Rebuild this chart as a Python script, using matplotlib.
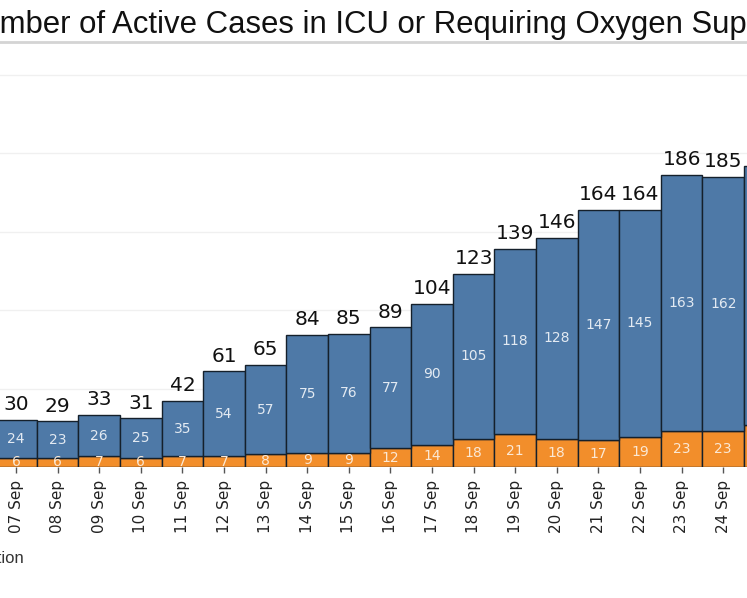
import matplotlib
matplotlib.use("Agg")
import matplotlib.pyplot as plt
from matplotlib.lines import Line2D

dates = ["07 Sep", "08 Sep", "09 Sep", "10 Sep", "11 Sep", "12 Sep", "13 Sep",
         "14 Sep", "15 Sep", "16 Sep", "17 Sep", "18 Sep", "19 Sep", "20 Sep",
         "21 Sep", "22 Sep", "23 Sep", "24 Sep", "25 Sep"]
icu = [6, 6, 7, 6, 7, 7, 8, 9, 9, 12, 14, 18, 21, 18, 17, 19, 23, 23, 27]
oxygen = [24, 23, 26, 25, 35, 54, 57, 75, 76, 77, 90, 105, 118, 128, 147, 145, 163, 162, 165]
totals = [a + b for a, b in zip(icu, oxygen)]
title = "Number of Active Cases in ICU or Requiring Oxygen Supplementation"
legend_text = "Requiring Oxygen Supplementation"

W, H = 747, 598
fig = plt.figure(figsize=(W / 100, H / 100), dpi=100)
fig.patch.set_facecolor("white")

ax = fig.add_axes([0, 131 / H, 1, 421 / H])
x = list(range(len(dates)))
blue = "#4e79a7"
orange = "#f28e2b"
edge = "#15202b"
ax.bar(x, icu, width=1.0, color=orange, edgecolor=edge, linewidth=1.0, zorder=3)
ax.bar(x, oxygen, bottom=icu, width=1.0, color=blue, edgecolor=edge, linewidth=1.0, zorder=3)

for xi, a, b, t in zip(x, icu, oxygen, totals):
    ax.text(xi, a / 2, str(a), ha="center", va="center", fontsize=10,
            color="#fbe8d4", family="DejaVu Sans", zorder=4)
    ax.text(xi, a + b / 2, str(b), ha="center", va="center", fontsize=10,
            color="#e3eaf2", family="DejaVu Sans", zorder=4)
    ax.annotate(str(t), (xi, t), xytext=(0, 7), textcoords="offset points",
                ha="center", va="baseline", fontsize=14.5, color="#111111",
                family="DejaVu Sans", zorder=4)

ax.set_yticks([50, 100, 150, 200, 250])
ax.yaxis.grid(True, color="#f0f0f0", linewidth=1.0, zorder=0)
ax.tick_params(axis="y", left=False, labelleft=False)
ax.set_xticks(x)
ax.set_xticklabels(dates, rotation=90, fontsize=11, color="#222222", family="DejaVu Sans")
ax.tick_params(axis="x", length=4, color="#555555", width=1, pad=5)
ax.set_xlim(-16 / 41.6, (W - 16) / 41.6)
ax.set_ylim(0, 421 / 1.57)
for s in ax.spines.values():
    s.set_visible(False)
ax.set_facecolor("white")

# title, cropped on the left like the reference
fig.canvas.draw()
r = fig.canvas.get_renderer()
probe = fig.text(0, 0, "mber of Active Cases in ICU or Requiring Oxygen Sup",
                 fontsize=20, family="Liberation Sans")
wsub = probe.get_window_extent(r).width
probe.remove()
fs = 20 * 745 / wsub
probe = fig.text(0, 0, "Nu", fontsize=fs, family="Liberation Sans")
wnu = probe.get_window_extent(r).width
probe.remove()
fig.text(-wnu / W, (H - 33) / H, title, fontsize=fs, family="Liberation Sans",
         ha="left", va="baseline", color="#111111")
fig.add_artist(Line2D([0, 1], [(H - 42) / H] * 2, color="#d4d4d4", linewidth=2,
                      transform=fig.transFigure))

fig.text(24 / W, (H - 563) / H, legend_text, fontsize=12, family="Liberation Sans",
         ha="right", va="baseline", color="#333333")

fig.savefig("out.png", dpi=100, facecolor="white")
